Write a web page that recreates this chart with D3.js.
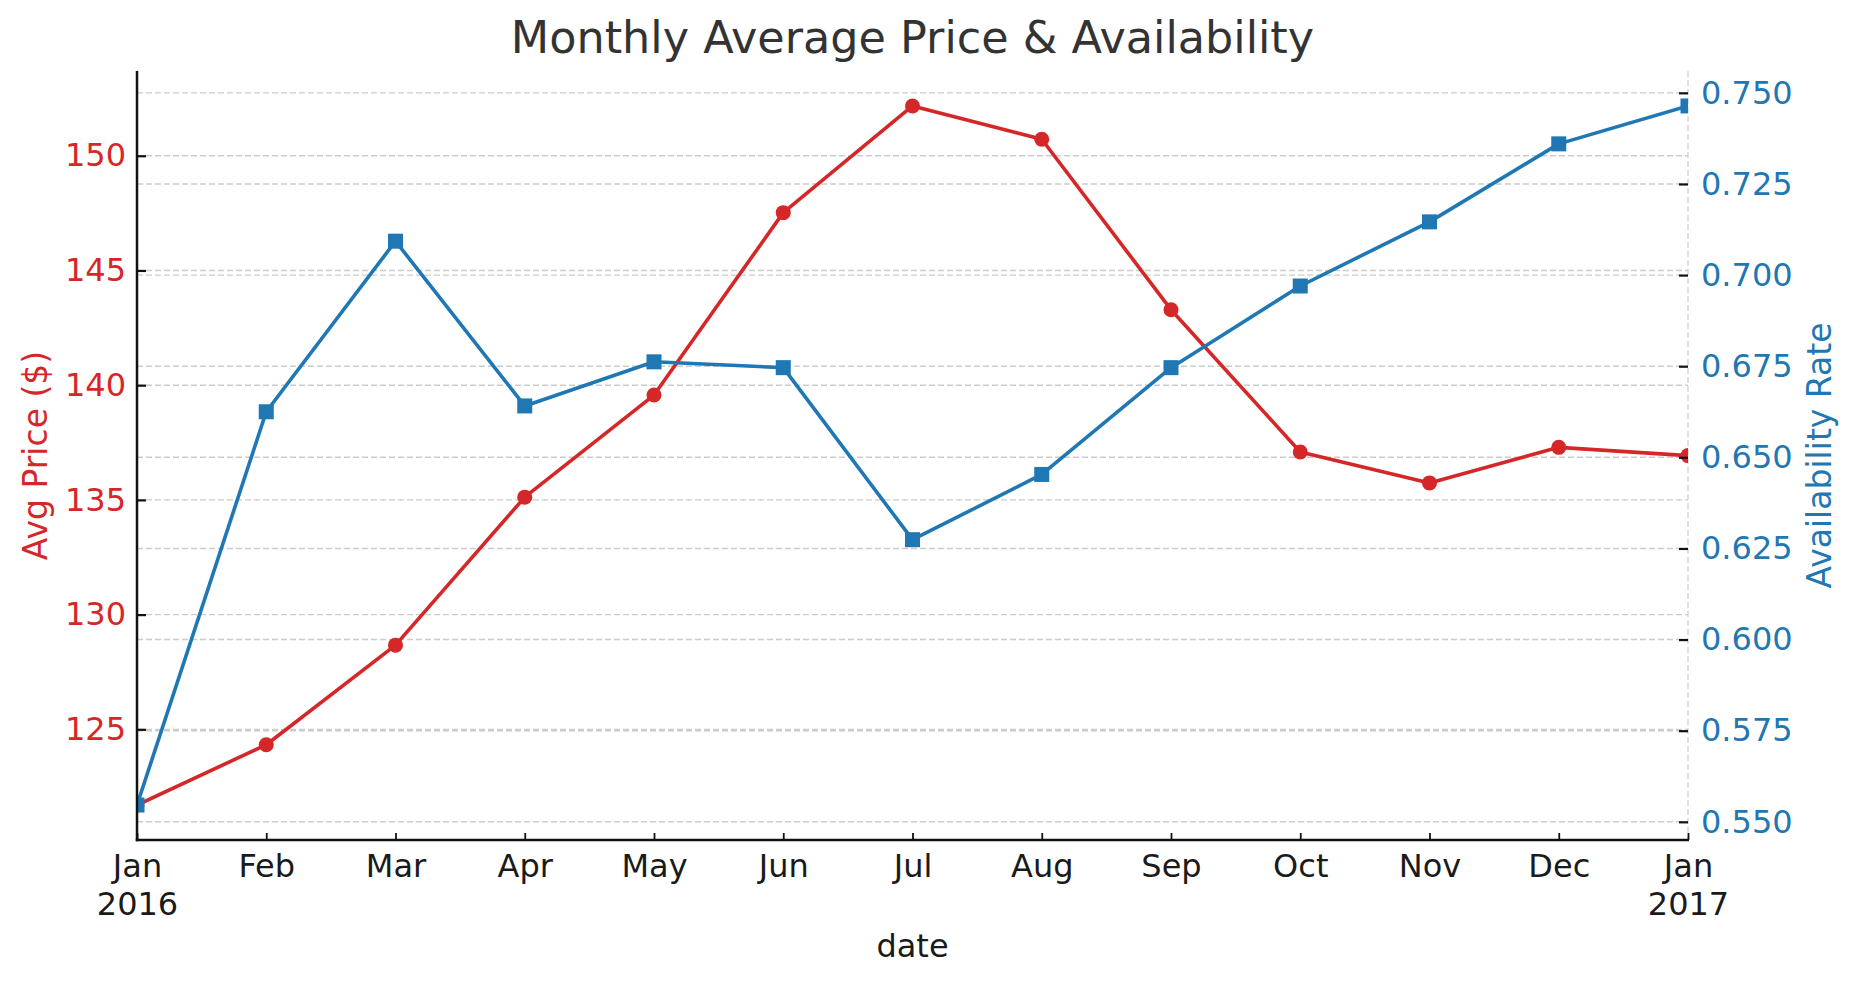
<!DOCTYPE html>
<html>
<head>
<meta charset="utf-8">
<script src="https://cdn.jsdelivr.net/npm/d3@7"></script>
<style>
  html, body { margin: 0; padding: 0; background: #fff; }
  svg { display: block; font-family: "DejaVu Sans", sans-serif; }
</style>
</head>
<body>
<svg id="chart" width="1857" height="985"></svg>
<script>
// ---- data ----
const periods = ["2016-01","2016-02","2016-03","2016-04","2016-05","2016-06","2016-07","2016-08","2016-09","2016-10","2016-11","2016-12","2017-01"];
const monthLabels = ["Jan","Feb","Mar","Apr","May","Jun","Jul","Aug","Sep","Oct","Nov","Dec","Jan"];
const yearLabels = ["2016","","","","","","","","","","","","2017"];
const avgPrice = [121.7, 124.33, 128.67, 135.12, 139.57, 147.52, 152.17, 150.72, 143.29, 137.09, 135.74, 137.29, 136.93];
const availability = [0.5546, 0.6625, 0.7093, 0.6641, 0.6762, 0.6746, 0.6274, 0.6453, 0.6746, 0.697, 0.7146, 0.736, 0.7464];
const priceTicks = [125, 130, 135, 140, 145, 150];
const availTicks = [0.550, 0.575, 0.600, 0.625, 0.650, 0.675, 0.700, 0.725, 0.750];

// ---- layout ----
const W = 1857, H = 985;
const m = { left: 137, right: 1688, top: 71, bottom: 840 };
const RED = "#d62728", BLUE = "#1f77b4";

const svg = d3.select("#chart");

function padded(arr) {
  const [lo, hi] = d3.extent(arr);
  const p = (hi - lo) * 0.05;
  return [lo - p, hi + p];
}

const x = d3.scalePoint().domain(periods).range([m.left, m.right]).padding(0);
const yL = d3.scaleLinear().domain(padded(avgPrice)).range([m.bottom, m.top]);
const yR = d3.scaleLinear().domain(padded(availability)).range([m.bottom, m.top]);

// clip
svg.append("defs").append("clipPath").attr("id", "plotclip")
  .append("rect").attr("x", m.left).attr("y", m.top)
  .attr("width", m.right - m.left).attr("height", m.bottom - m.top);

// grids
const grid = svg.append("g");
grid.selectAll("line.gl").data(priceTicks).join("line")
  .attr("x1", m.left).attr("x2", m.right)
  .attr("y1", d => yL(d)).attr("y2", d => yL(d))
  .attr("stroke", "#cccccc").attr("stroke-width", 1.4).attr("stroke-dasharray", "6,3");
grid.selectAll("line.gr").data(availTicks).join("line")
  .attr("x1", m.left).attr("x2", m.right)
  .attr("y1", d => yR(d)).attr("y2", d => yR(d))
  .attr("stroke", "#cccccc").attr("stroke-width", 1.4).attr("stroke-dasharray", "6,3");

// right dashed border
svg.append("line").attr("x1", m.right).attr("x2", m.right).attr("y1", m.top).attr("y2", m.bottom)
  .attr("stroke", "#cccccc").attr("stroke-width", 1.2).attr("stroke-dasharray", "6,3");

// series
const plot = svg.append("g").attr("clip-path", "url(#plotclip)");
const lineL = d3.line().x((d, i) => x(periods[i])).y(d => yL(d));
const lineR = d3.line().x((d, i) => x(periods[i])).y(d => yR(d));

plot.append("path").datum(avgPrice).attr("d", lineL)
  .attr("fill", "none").attr("stroke", RED).attr("stroke-width", 3.6).attr("stroke-linejoin", "round");
plot.selectAll("circle.p").data(avgPrice).join("circle")
  .attr("cx", (d, i) => x(periods[i])).attr("cy", d => yL(d)).attr("r", 7.5).attr("fill", RED);

plot.append("path").datum(availability).attr("d", lineR)
  .attr("fill", "none").attr("stroke", BLUE).attr("stroke-width", 3.6).attr("stroke-linejoin", "round");
const sq = 15;
plot.selectAll("rect.a").data(availability).join("rect")
  .attr("x", (d, i) => x(periods[i]) - sq / 2).attr("y", d => yR(d) - sq / 2)
  .attr("width", sq).attr("height", sq).attr("fill", BLUE);

// axes
const fs = 32;
const axL = svg.append("g").attr("transform", `translate(${m.left},0)`)
  .call(d3.axisLeft(yL).tickValues(priceTicks).tickFormat(d3.format("d")).tickSize(-9).tickPadding(11));
axL.select(".domain").remove();
axL.selectAll(".tick line").attr("stroke", "#111").attr("stroke-width", 2.2);
axL.selectAll(".tick text").attr("fill", RED).attr("font-size", fs).attr("font-family", "DejaVu Sans");

const axR = svg.append("g").attr("transform", `translate(${m.right},0)`)
  .call(d3.axisRight(yR).tickValues(availTicks).tickFormat(d3.format(".3f")).tickSize(-9).tickPadding(13));
axR.select(".domain").remove();
axR.selectAll(".tick line").attr("stroke", "#111").attr("stroke-width", 2.2);
axR.selectAll(".tick text").attr("fill", BLUE).attr("font-size", fs).attr("font-family", "DejaVu Sans");

const axB = svg.append("g").attr("transform", `translate(0,${m.bottom})`)
  .call(d3.axisBottom(x).tickValues(periods).tickSize(-7).tickPadding(12).tickFormat(() => ""));
axB.select(".domain").remove();
axB.selectAll(".tick line").attr("stroke", "#111").attr("stroke-width", 1.8);
axB.selectAll(".tick text").each(function(d) {
  const i = periods.indexOf(d);
  const t = d3.select(this).attr("fill", "#1a1a1a").attr("font-size", fs)
    .attr("font-family", "DejaVu Sans").attr("dy", null).attr("y", 36);
  t.append("tspan").attr("x", 0).attr("y", 37).text(monthLabels[i]);
  if (yearLabels[i]) t.append("tspan").attr("x", 0).attr("y", 75).text(yearLabels[i]);
});

// spines
svg.append("line").attr("x1", m.left).attr("x2", m.left).attr("y1", m.top).attr("y2", m.bottom + 1.25)
  .attr("stroke", "#111").attr("stroke-width", 2.5);
svg.append("line").attr("x1", m.left - 1.25).attr("x2", m.right + 1).attr("y1", m.bottom).attr("y2", m.bottom)
  .attr("stroke", "#111").attr("stroke-width", 2.5);

// labels
svg.append("text").attr("x", (m.left + m.right) / 2).attr("y", 53)
  .attr("text-anchor", "middle").attr("font-size", 44.5).attr("fill", "#333")
  .text("Monthly Average Price & Availability");
svg.append("text").attr("x", (m.left + m.right) / 2).attr("y", 957)
  .attr("text-anchor", "middle").attr("font-size", 32).attr("fill", "#1a1a1a").text("date");
svg.append("text").attr("transform", `translate(47,${(m.top + m.bottom) / 2}) rotate(-90)`)
  .attr("text-anchor", "middle").attr("font-size", 33).attr("fill", RED).text("Avg Price ($)");
svg.append("text").attr("transform", `translate(1831,${(m.top + m.bottom) / 2}) rotate(-90)`)
  .attr("text-anchor", "middle").attr("font-size", 33).attr("fill", BLUE).text("Availability Rate");
</script>
</body>
</html>
